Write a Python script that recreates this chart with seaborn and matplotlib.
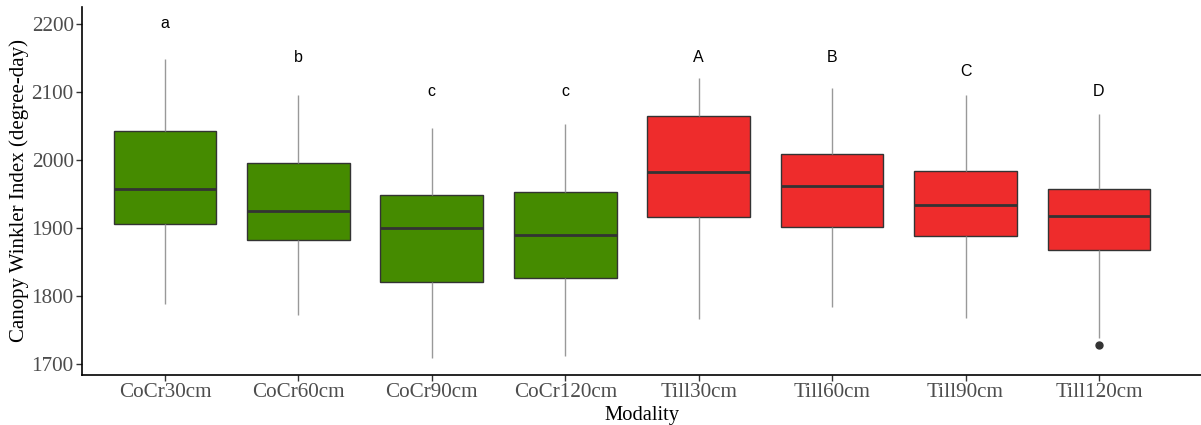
import pandas as pd
import seaborn as sns
import matplotlib.pyplot as plt

# Five-number summaries (degree-day)
modalities = ['CoCr30cm', 'CoCr60cm', 'CoCr90cm', 'CoCr120cm',
              'Till30cm', 'Till60cm', 'Till90cm', 'Till120cm']
whisker_low = [1788, 1772, 1709, 1711, 1766, 1784, 1767, 1738]
q1 = [1906, 1882, 1821, 1827, 1916, 1901, 1888, 1867]
median = [1958, 1925, 1900, 1889, 1982, 1962, 1934, 1918]
q3 = [2043, 1996, 1948, 1953, 2065, 2009, 1984, 1958]
whisker_high = [2148, 2096, 2047, 2053, 2121, 2106, 2096, 2067]
low_outliers = {'Till120cm': [1728]}

# Letters of the post-hoc groups and where they sit
letters = ['a', 'b', 'c', 'c', 'A', 'B', 'C', 'D']
letter_y = [2200, 2150, 2100, 2100, 2150, 2150, 2130, 2100]

colors = ['#458B00'] * 4 + ['#EE2C2C'] * 4

# Build a long table whose quartiles reproduce the summaries
rows = []
for i, m in enumerate(modalities):
    vals = [whisker_low[i], q1[i], q1[i], median[i], q3[i], q3[i], whisker_high[i]]
    for o in low_outliers.get(m, []):
        vals += [o, whisker_high[i]]
    for v in vals:
        rows.append({'Modality': m, 'CWI': v})
df = pd.DataFrame(rows)

sns.set_style('white')
plt.rcParams['font.family'] = ['Liberation Serif', 'DejaVu Serif']

fig = plt.figure(figsize=(12.01, 4.25), dpi=100)
ax = fig.add_axes([0.0683, 0.1188, 0.9317, 0.864])

sns.boxplot(data=df, x='Modality', y='CWI', hue='Modality', order=modalities,
            hue_order=modalities, palette=colors, saturation=1, width=0.77,
            linecolor='#333333', linewidth=1, showcaps=False, legend=False,
            whis=1.5, ax=ax,
            whiskerprops={'color': '#999999', 'linewidth': 1},
            medianprops={'color': '#333333', 'linewidth': 2},
            flierprops={'marker': 'o', 'markersize': 5, 'markerfacecolor': '#333333',
                        'markeredgecolor': '#333333'})

for i, (lab, yy) in enumerate(zip(letters, letter_y)):
    ax.text(i, yy, lab, ha='center', va='center', fontsize=11.5,
            family=['Liberation Sans', 'DejaVu Sans'], color='black')

ax.set_xlim(-0.622, 7.765)
ax.set_ylim(1684.5, 2224.5)
ax.set_yticks([1700, 1800, 1900, 2000, 2100, 2200])
ax.set_xlabel('Modality', fontsize=14.8, color='black', labelpad=3)
ax.set_ylabel('Canopy Winkler Index (degree-day)', fontsize=15, color='black', labelpad=2)
ax.tick_params(axis='both', labelsize=15.2, labelcolor='#4D4D4D', color='#333333',
               length=4, width=1, bottom=True, left=True, pad=2)
for s in ['top', 'right']:
    ax.spines[s].set_visible(False)
for s in ['left', 'bottom']:
    ax.spines[s].set_color('black')
    ax.spines[s].set_linewidth(1.2)

plt.savefig('out.png', dpi=100)
plt.close()
